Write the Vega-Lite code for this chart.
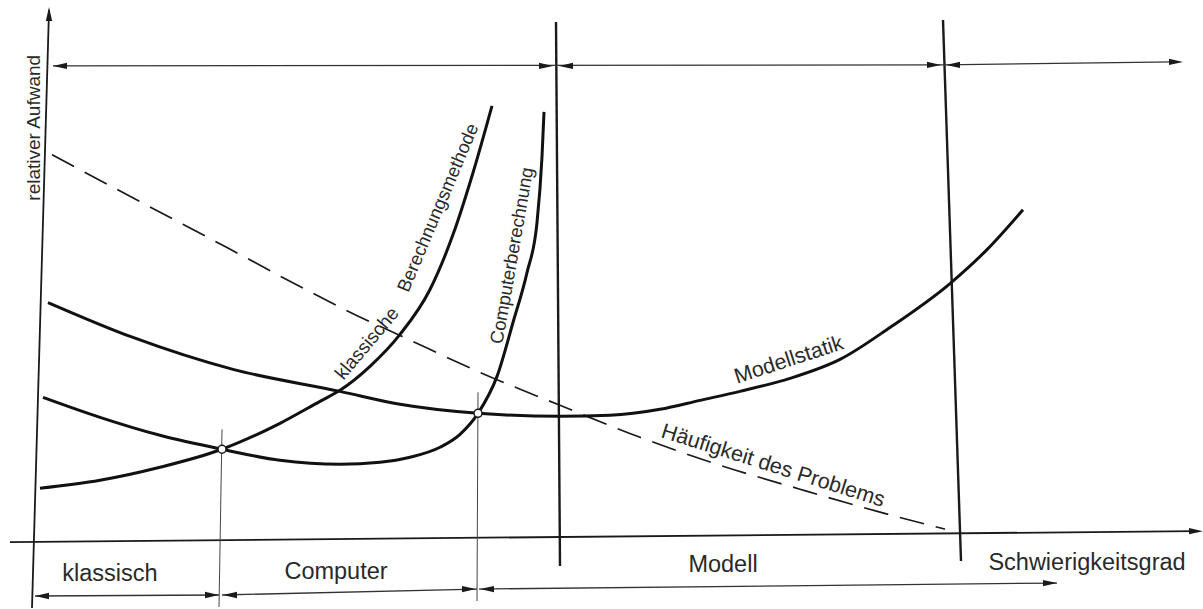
{
  "$schema": "https://vega.github.io/schema/vega-lite/v6.json",
  "width": 1203,
  "height": 609,
  "autosize": {"type": "fit", "contains": "padding"},
  "padding": 0,
  "background": "white",
  "config": {"view": {"stroke": null}},
  "datasets": {
    "curves": [
      {"s": "klassisch", "x": 40, "y": 489}, {"s": "klassisch", "x": 100, "y": 481}, {"s": "klassisch", "x": 160, "y": 468},
      {"s": "klassisch", "x": 222, "y": 450}, {"s": "klassisch", "x": 280, "y": 424}, {"s": "klassisch", "x": 320, "y": 402},
      {"s": "klassisch", "x": 340, "y": 391}, {"s": "klassisch", "x": 370, "y": 367}, {"s": "klassisch", "x": 400, "y": 335},
      {"s": "klassisch", "x": 430, "y": 290}, {"s": "klassisch", "x": 453, "y": 235}, {"s": "klassisch", "x": 473, "y": 173},
      {"s": "klassisch", "x": 492, "y": 106},
      {"s": "computer", "x": 43, "y": 398}, {"s": "computer", "x": 100, "y": 418}, {"s": "computer", "x": 160, "y": 436},
      {"s": "computer", "x": 222, "y": 450}, {"s": "computer", "x": 280, "y": 461}, {"s": "computer", "x": 340, "y": 465},
      {"s": "computer", "x": 380, "y": 463}, {"s": "computer", "x": 410, "y": 458}, {"s": "computer", "x": 440, "y": 448},
      {"s": "computer", "x": 460, "y": 435}, {"s": "computer", "x": 478, "y": 414}, {"s": "computer", "x": 497, "y": 377},
      {"s": "computer", "x": 513, "y": 323}, {"s": "computer", "x": 527, "y": 273}, {"s": "computer", "x": 537, "y": 223},
      {"s": "computer", "x": 542, "y": 157}, {"s": "computer", "x": 544, "y": 112},
      {"s": "modell", "x": 48, "y": 303}, {"s": "modell", "x": 133, "y": 338}, {"s": "modell", "x": 233, "y": 370},
      {"s": "modell", "x": 340, "y": 392}, {"s": "modell", "x": 400, "y": 405}, {"s": "modell", "x": 478, "y": 414},
      {"s": "modell", "x": 560, "y": 417}, {"s": "modell", "x": 610, "y": 416}, {"s": "modell", "x": 660, "y": 410},
      {"s": "modell", "x": 700, "y": 401}, {"s": "modell", "x": 740, "y": 392}, {"s": "modell", "x": 790, "y": 379},
      {"s": "modell", "x": 840, "y": 360}, {"s": "modell", "x": 890, "y": 328}, {"s": "modell", "x": 950, "y": 284},
      {"s": "modell", "x": 987, "y": 250}, {"s": "modell", "x": 1023, "y": 210}
    ],
    "haeufigkeit": [
      {"x": 52, "y": 155}, {"x": 140, "y": 202}, {"x": 227, "y": 248}, {"x": 300, "y": 287}, {"x": 363, "y": 319},
      {"x": 400, "y": 336}, {"x": 480, "y": 373}, {"x": 560, "y": 406}, {"x": 640, "y": 438}, {"x": 720, "y": 466},
      {"x": 800, "y": 490}, {"x": 880, "y": 513}, {"x": 945, "y": 530}
    ],
    "axes": [
      {"x": 49, "y": 10, "x2": 32, "y2": 609},
      {"x": 10, "y": 543, "x2": 1195, "y2": 532}
    ],
    "bounds": [
      {"x": 556, "y": 22, "x2": 560, "y2": 567},
      {"x": 943, "y": 20, "x2": 961, "y2": 562}
    ],
    "thin": [
      {"x": 222, "y": 430, "x2": 219, "y2": 608},
      {"x": 478, "y": 393, "x2": 477, "y2": 602}
    ],
    "dims": [
      {"x": 53, "y": 66, "x2": 943, "y2": 65},
      {"x": 943, "y": 65, "x2": 1175, "y2": 62},
      {"x": 35, "y": 597, "x2": 219, "y2": 596},
      {"x": 222, "y": 596, "x2": 477, "y2": 590},
      {"x": 479, "y": 590, "x2": 1057, "y2": 584}
    ],
    "headsLeft": [
      {"x": 53, "y": 66}, {"x": 559, "y": 66}, {"x": 946, "y": 65},
      {"x": 35, "y": 597}, {"x": 223, "y": 596}, {"x": 480, "y": 590}
    ],
    "headsRight": [
      {"x": 553, "y": 66}, {"x": 941, "y": 65}, {"x": 1183, "y": 62},
      {"x": 219, "y": 596}, {"x": 476, "y": 590}, {"x": 1057, "y": 584}, {"x": 1203, "y": 532}
    ],
    "headsUp": [{"x": 49, "y": 7}],
    "nodes": [{"x": 222, "y": 450}, {"x": 478, "y": 414}]
  },
  "layer": [
    {
      "data": {"name": "axes"},
      "mark": {"type": "rule", "color": "#1a1a1a", "strokeWidth": 1.8},
      "encoding": {
        "x": {"field": "x", "type": "quantitative", "scale": {"domain": [0, 1203], "nice": false, "zero": false}, "axis": null},
        "y": {"field": "y", "type": "quantitative", "scale": {"domain": [609, 0], "nice": false, "zero": false}, "axis": null},
        "x2": {"field": "x2"},
        "y2": {"field": "y2"}
      }
    },
    {
      "data": {"name": "bounds"},
      "mark": {"type": "rule", "color": "#1a1a1a", "strokeWidth": 2.4},
      "encoding": {
        "x": {"field": "x", "type": "quantitative", "scale": {"domain": [0, 1203], "nice": false, "zero": false}, "axis": null},
        "y": {"field": "y", "type": "quantitative", "scale": {"domain": [609, 0], "nice": false, "zero": false}, "axis": null},
        "x2": {"field": "x2"},
        "y2": {"field": "y2"}
      }
    },
    {
      "data": {"name": "thin"},
      "mark": {"type": "rule", "color": "#444444", "strokeWidth": 1},
      "encoding": {
        "x": {"field": "x", "type": "quantitative", "scale": {"domain": [0, 1203], "nice": false, "zero": false}, "axis": null},
        "y": {"field": "y", "type": "quantitative", "scale": {"domain": [609, 0], "nice": false, "zero": false}, "axis": null},
        "x2": {"field": "x2"},
        "y2": {"field": "y2"}
      }
    },
    {
      "data": {"name": "dims"},
      "mark": {"type": "rule", "color": "#333333", "strokeWidth": 1.3},
      "encoding": {
        "x": {"field": "x", "type": "quantitative", "scale": {"domain": [0, 1203], "nice": false, "zero": false}, "axis": null},
        "y": {"field": "y", "type": "quantitative", "scale": {"domain": [609, 0], "nice": false, "zero": false}, "axis": null},
        "x2": {"field": "x2"},
        "y2": {"field": "y2"}
      }
    },
    {
      "data": {"name": "headsLeft"},
      "mark": {"type": "point", "shape": "M0,0L2,-0.45L2,0.45Z", "filled": true, "color": "#1a1a1a", "size": 196, "opacity": 1},
      "encoding": {
        "x": {"field": "x", "type": "quantitative", "scale": {"domain": [0, 1203], "nice": false, "zero": false}, "axis": null},
        "y": {"field": "y", "type": "quantitative", "scale": {"domain": [609, 0], "nice": false, "zero": false}, "axis": null}
      }
    },
    {
      "data": {"name": "headsRight"},
      "mark": {"type": "point", "shape": "M0,0L-2,-0.45L-2,0.45Z", "filled": true, "color": "#1a1a1a", "size": 196, "opacity": 1},
      "encoding": {
        "x": {"field": "x", "type": "quantitative", "scale": {"domain": [0, 1203], "nice": false, "zero": false}, "axis": null},
        "y": {"field": "y", "type": "quantitative", "scale": {"domain": [609, 0], "nice": false, "zero": false}, "axis": null}
      }
    },
    {
      "data": {"name": "headsUp"},
      "mark": {"type": "point", "shape": "M0,0L-0.45,2L0.45,2Z", "filled": true, "color": "#1a1a1a", "size": 196, "opacity": 1},
      "encoding": {
        "x": {"field": "x", "type": "quantitative", "scale": {"domain": [0, 1203], "nice": false, "zero": false}, "axis": null},
        "y": {"field": "y", "type": "quantitative", "scale": {"domain": [609, 0], "nice": false, "zero": false}, "axis": null}
      }
    },
    {
      "data": {"name": "haeufigkeit"},
      "mark": {"type": "line", "color": "#1a1a1a", "strokeWidth": 1.7, "strokeDash": [25, 12], "interpolate": "monotone"},
      "encoding": {
        "x": {"field": "x", "type": "quantitative", "scale": {"domain": [0, 1203], "nice": false, "zero": false}, "axis": null},
        "y": {"field": "y", "type": "quantitative", "scale": {"domain": [609, 0], "nice": false, "zero": false}, "axis": null}
      }
    },
    {
      "data": {"name": "curves"},
      "mark": {"type": "line", "color": "#111111", "strokeWidth": 3, "interpolate": "monotone"},
      "encoding": {
        "x": {"field": "x", "type": "quantitative", "scale": {"domain": [0, 1203], "nice": false, "zero": false}, "axis": null},
        "y": {"field": "y", "type": "quantitative", "scale": {"domain": [609, 0], "nice": false, "zero": false}, "axis": null},
        "detail": {"field": "s", "type": "nominal"}
      }
    },
    {
      "data": {"name": "nodes"},
      "mark": {"type": "point", "shape": "circle", "filled": true, "fill": "white", "stroke": "#1a1a1a", "strokeWidth": 1.5, "size": 64, "opacity": 1},
      "encoding": {
        "x": {"field": "x", "type": "quantitative", "scale": {"domain": [0, 1203], "nice": false, "zero": false}, "axis": null},
        "y": {"field": "y", "type": "quantitative", "scale": {"domain": [609, 0], "nice": false, "zero": false}, "axis": null}
      }
    },
    {
      "data": {"values": [
        {"t": "klassisch", "x": 110, "y": 575},
        {"t": "Computer", "x": 336, "y": 573},
        {"t": "Modell", "x": 723, "y": 566},
        {"t": "Schwierigkeitsgrad", "x": 1087, "y": 564}
      ]},
      "mark": {"type": "text", "font": "Liberation Sans", "fontSize": 23.5, "color": "#2a2a2a", "align": "center", "baseline": "middle"},
      "encoding": {
        "x": {"field": "x", "type": "quantitative", "scale": {"domain": [0, 1203], "nice": false, "zero": false}, "axis": null},
        "y": {"field": "y", "type": "quantitative", "scale": {"domain": [609, 0], "nice": false, "zero": false}, "axis": null},
        "text": {"field": "t"}
      }
    },
    {
      "data": {"values": [{"t": "relativer Aufwand", "x": 34, "y": 128}]},
      "mark": {"type": "text", "font": "Liberation Sans", "fontSize": 19, "color": "#2a2a2a", "align": "center", "baseline": "middle", "angle": 270},
      "encoding": {
        "x": {"field": "x", "type": "quantitative", "scale": {"domain": [0, 1203], "nice": false, "zero": false}, "axis": null},
        "y": {"field": "y", "type": "quantitative", "scale": {"domain": [609, 0], "nice": false, "zero": false}, "axis": null},
        "text": {"field": "t"}
      }
    },
    {
      "data": {"values": [{"t": "klassische", "x": 367, "y": 344}]},
      "mark": {"type": "text", "font": "Liberation Sans", "fontSize": 19, "color": "#2a2a2a", "align": "center", "baseline": "middle", "angle": 310},
      "encoding": {
        "x": {"field": "x", "type": "quantitative", "scale": {"domain": [0, 1203], "nice": false, "zero": false}, "axis": null},
        "y": {"field": "y", "type": "quantitative", "scale": {"domain": [609, 0], "nice": false, "zero": false}, "axis": null},
        "text": {"field": "t"}
      }
    },
    {
      "data": {"values": [{"t": "Berechnungsmethode", "x": 438, "y": 208}]},
      "mark": {"type": "text", "font": "Liberation Sans", "fontSize": 18.5, "color": "#2a2a2a", "align": "center", "baseline": "middle", "angle": 293},
      "encoding": {
        "x": {"field": "x", "type": "quantitative", "scale": {"domain": [0, 1203], "nice": false, "zero": false}, "axis": null},
        "y": {"field": "y", "type": "quantitative", "scale": {"domain": [609, 0], "nice": false, "zero": false}, "axis": null},
        "text": {"field": "t"}
      }
    },
    {
      "data": {"values": [{"t": "Computerberechnung", "x": 512, "y": 256}]},
      "mark": {"type": "text", "font": "Liberation Sans", "fontSize": 18.5, "color": "#2a2a2a", "align": "center", "baseline": "middle", "angle": 280},
      "encoding": {
        "x": {"field": "x", "type": "quantitative", "scale": {"domain": [0, 1203], "nice": false, "zero": false}, "axis": null},
        "y": {"field": "y", "type": "quantitative", "scale": {"domain": [609, 0], "nice": false, "zero": false}, "axis": null},
        "text": {"field": "t"}
      }
    },
    {
      "data": {"values": [{"t": "Modellstatik", "x": 789, "y": 361}]},
      "mark": {"type": "text", "font": "Liberation Sans", "fontSize": 21.5, "color": "#2a2a2a", "align": "center", "baseline": "middle", "angle": 342},
      "encoding": {
        "x": {"field": "x", "type": "quantitative", "scale": {"domain": [0, 1203], "nice": false, "zero": false}, "axis": null},
        "y": {"field": "y", "type": "quantitative", "scale": {"domain": [609, 0], "nice": false, "zero": false}, "axis": null},
        "text": {"field": "t"}
      }
    },
    {
      "data": {"values": [{"t": "Häufigkeit des Problems", "x": 773, "y": 467}]},
      "mark": {"type": "text", "font": "Liberation Sans", "fontSize": 21.5, "color": "#2a2a2a", "align": "center", "baseline": "middle", "angle": 17.5},
      "encoding": {
        "x": {"field": "x", "type": "quantitative", "scale": {"domain": [0, 1203], "nice": false, "zero": false}, "axis": null},
        "y": {"field": "y", "type": "quantitative", "scale": {"domain": [609, 0], "nice": false, "zero": false}, "axis": null},
        "text": {"field": "t"}
      }
    }
  ]
}
